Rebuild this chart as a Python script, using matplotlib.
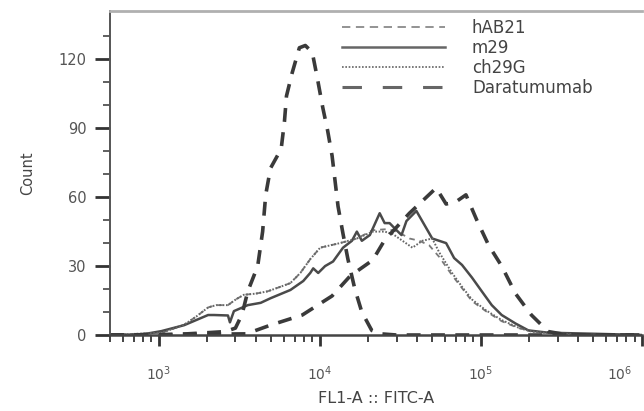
import matplotlib.pyplot as plt
from matplotlib.ticker import LogLocator, FixedLocator, NullFormatter
from matplotlib.transforms import ScaledTranslation

plt.rcParams['font.family'] = ['DejaVu Sans']
plt.rcParams['mathtext.default'] = 'regular'
plt.rcParams['lines.scale_dashes'] = False

# FL1-A :: FITC-A intensity vs. event count
hab21_x = [500, 1043, 1152, 1445, 1713, 2031, 2275, 2697, 3020, 3382, 4010, 4753, 5713,
           6584, 7586, 8740, 10070, 11600, 13370, 17010, 21340, 25300, 28340, 31290,
           36060, 41550, 47860, 55130, 66300, 76400, 88000, 107300, 134700, 171300,
           206000, 302000, 532500, 1000000]
hab21_y = [0, 1, 2, 4.5, 8, 12, 13, 13, 15.5, 17.5, 18, 19, 21, 22.6, 27, 33, 38, 39, 40,
           42, 45.6, 46, 45.6, 44.5, 42, 41, 39, 34, 26, 20.4, 14.8, 10.4, 6, 3, 1.7, 0.5,
           0, 0]

m29_x = [500, 800, 1043, 1445, 2031, 2212, 2697, 2774, 2937, 3580, 4305, 4955, 6584, 7910,
         8740, 9120, 9790, 10810, 12110, 13960, 15850, 17010, 18270, 20480, 23570, 25300,
         27150, 29990, 32200, 34540, 39810, 45870, 49940, 55130, 60880, 68260, 76410,
         88070, 101400, 116900, 134700, 164200, 197300, 262000, 532500, 1000000]
m29_y = [0, 0.3, 1.7, 4.3, 8.7, 8.7, 8.5, 5.5, 10.4, 13, 14, 16, 19.6, 23.5, 27, 29, 27, 30,
         32, 38, 41, 45, 41, 43.5, 53, 48.7, 48.7, 45.6, 43.5, 49.6, 54, 46.5, 42, 41, 40,
         33.5, 30.5, 25, 19, 13, 8.7, 5, 2, 1, 0.5, 0]

ch29g_x = [500, 1043, 1152, 1445, 1713, 2031, 2275, 2697, 3020, 3382, 4010, 4753, 5713,
           6584, 7586, 8740, 10070, 11600, 13370, 17010, 21340, 25300, 28340, 32650,
           37620, 43350, 49940, 55130, 66300, 76400, 88000, 107300, 134700, 171300,
           206000, 302000, 532500, 1000000]
ch29g_y = [0, 1, 2, 4.5, 8, 12, 13, 13, 15.5, 17.5, 18, 19, 21, 22.6, 27, 33, 38, 39, 40,
           42, 45, 45, 44, 41, 38, 41, 42, 36, 27, 21, 15.5, 10.8, 6.5, 3.2, 1.5, 0.5, 0, 0]

dara_x = [500, 1000, 1500, 2000, 2600, 3000, 3300, 3580, 4125, 4426, 4625, 4955, 5770,
          6047, 6223, 6745, 7482, 8147, 8995, 9660, 10450, 11200, 11940, 12460, 13000,
          13960, 14970, 16530, 18260, 21040, 24000, 30000, 1000000]
dara_y = [0, 0, 0.5, 1, 1.5, 3, 9, 19, 30, 45, 61, 72.6, 81, 93, 104, 114, 125, 126, 123,
          112, 99, 89, 78, 67, 56, 44, 33, 20, 10, 2, 0.5, 0, 0]

# second long-dashed histogram (no legend entry)
dara2_x = [500, 3500, 4955, 7800, 11940, 15420, 21340, 25300, 36060, 52840, 60880, 70150,
           80830, 94400, 111900, 134700, 164200, 206000, 261800, 348000, 1000000]
dara2_y = [0, 0.5, 4.3, 8.7, 17, 25.6, 32.6, 41.3, 53, 64, 57, 58, 61, 50, 39, 30, 18,
           8.7, 1.5, 0, 0]

decades = [1e3, 1e4, 1e5, 1e6]

fig = plt.figure(figsize=(6.44, 4.11), dpi=100)
ax = fig.add_axes([0.1708, 0.1849, 0.8261, 0.7883])

ax.plot(hab21_x, hab21_y, color='#7a7a7a', lw=1.3, dashes=(4, 3.5), label='hAB21')
ax.plot(m29_x, m29_y, color='#4a4a4a', lw=1.8, label='m29')
ax.plot(ch29g_x, ch29g_y, color='#666666', lw=1.4, dashes=(1.2, 1.2), label='ch29G')
ax.plot(dara_x, dara_y, color='#3a3a3a', lw=2.6, dashes=(10, 7.5), label='Daratumumab')
ax.plot(dara2_x, dara2_y, color='#3a3a3a', lw=2.6, dashes=(10, 7.5))

ax.set_xscale('log')
ax.set_xlim(500, 1e6)
ax.set_ylim(0, 141)

ax.xaxis.set_major_locator(FixedLocator(decades))
ax.xaxis.set_minor_locator(LogLocator(base=10, subs=range(2, 10), numticks=20))
ax.xaxis.set_minor_formatter(NullFormatter())
ax.yaxis.set_major_locator(FixedLocator([0, 30, 60, 90, 120]))
ax.yaxis.set_minor_locator(FixedLocator([10, 20, 40, 50, 70, 80, 100, 110, 130]))

ax.tick_params(axis='y', which='major', length=11, width=2, color='#333333',
               labelsize=10.5, labelcolor='#555555', pad=6)
ax.tick_params(axis='y', which='minor', length=5, width=1.2, color='#444444')
ax.tick_params(axis='x', which='major', length=8, width=2, color='#333333',
               labelsize=10, labelcolor='#555555', pad=13)
ax.tick_params(axis='x', which='minor', length=5, width=1.4, color='#444444')

ax.spines['right'].set_visible(False)
ax.spines['top'].set_color('#b0b0b0')
ax.spines['top'].set_linewidth(2)
ax.spines['left'].set_color('#555555')
ax.spines['left'].set_linewidth(1.4)
ax.spines['bottom'].set_color('#444444')
ax.spines['bottom'].set_linewidth(1.8)

ax.set_xlabel('FL1-A :: FITC-A', fontsize=11.5, color='#444444', labelpad=6)
ax.set_ylabel('Count', fontsize=10.5, color='#444444', labelpad=17)

leg = ax.legend(loc='upper left', bbox_to_anchor=(342 / 644, 1 - 19 / 411),
                bbox_transform=fig.transFigure, frameon=False, fontsize=12,
                handlelength=6.2, handletextpad=1.6, labelspacing=0.12,
                borderpad=0, borderaxespad=0)
for t in leg.get_texts():
    t.set_color('#444444')
hnd = leg.legend_handles
hnd[0].set_dashes((6, 4))
hnd[0].set_color('#8a8a8a')
hnd[1].set_color('#666666')
hnd[2].set_color('#7a7a7a')
hnd[3].set_dashes((14, 15))
hnd[3].set_color('#666666')
hnd[3].set_linewidth(2.2)

# the 10^6 label sits shifted left, as in the original
fig.canvas.draw()
last = ax.xaxis.get_major_ticks()[3].label1
last.set_transform(last.get_transform() +
                   ScaledTranslation(-16 / 72, 0, fig.dpi_scale_trans))

fig.savefig('out.png', dpi=100)
